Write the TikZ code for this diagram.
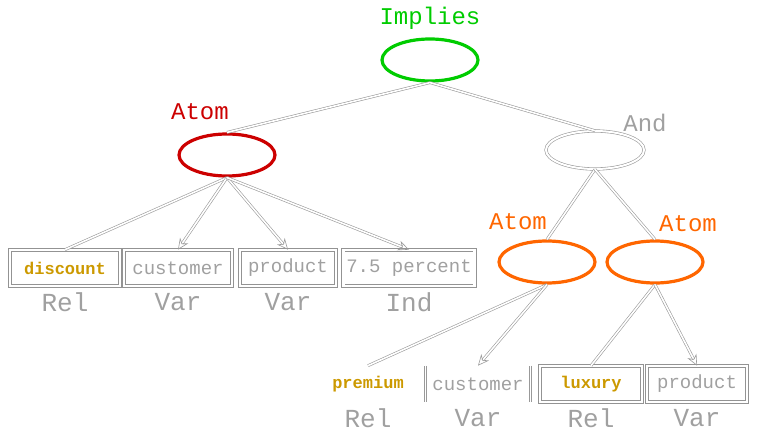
\documentclass[tikz,border=0pt]{standalone}
\usepackage{fontspec}
\setmonofont{Liberation Mono}
\usetikzlibrary{arrows.meta,positioning,shapes.geometric}
\definecolor{implgreen}{HTML}{00CC00}
\definecolor{atomred}{HTML}{CC0000}
\definecolor{atomorange}{HTML}{FF6600}
\definecolor{relgold}{HTML}{CC9900}
\definecolor{ghost}{HTML}{A0A0A0}

\begin{document}
\begin{tikzpicture}[
    x=1pt, y=-1pt,
    oval/.style={draw=#1, ellipse, line width=3.2pt,
                 minimum width=96pt, minimum height=42pt},
    ghostoval/.style={draw=gray!80, ellipse, double=white,
                 double distance=2pt, line width=0.6pt,
                 minimum width=98pt, minimum height=38pt},
    kind/.style={font=\ttfamily\fontsize{24}{24}\selectfont, text=#1},
    term/.style={draw=gray!85, double=white, double distance=2.5pt,
                 line width=0.7pt, minimum height=36pt, inner xsep=3pt,
                 font=\ttfamily\fontsize{19}{19}\selectfont, text=ghost},
    relterm/.style={term, font=\ttfamily\bfseries\fontsize{17}{17}\selectfont,
                 text=relgold},
    sort/.style={font=\ttfamily\fontsize{26}{26}\selectfont, text=ghost},
    edge/.style={draw=gray!80, double=white, double distance=1.6pt,
                 line width=0.6pt},
    aedge/.style={edge, -{Stealth[open, length=11pt, width=10pt]}},
    node distance=3pt
  ]
    \useasboundingbox (0,0) rectangle (762,446);

    % === Tree ===
    \node[oval=implgreen] (impl) at (430,60) {};
    \node[kind=implgreen, above=4pt of impl] (implT) {Implies};

    \node[oval=atomred] (atomL) at (227,155) {};
    \node[kind=atomred] (atomLT) at (200,112) {Atom};

    \node[ghostoval] (and) at (595,150) {};
    \node[kind=ghost] (andT) at (645,123) {And};

    \node[oval=atomorange] (atomA) at (547,262) {};
    \node[kind=atomorange] (atomAT) at (518,222) {Atom};
    \node[oval=atomorange] (atomB) at (655,262) {};
    \node[kind=atomorange] (atomBT) at (688,224) {Atom};

    % === First atom: terms ===
    \node[relterm, minimum width=110pt] (disc) at (65,268) {discount};
    \node[term, minimum width=108pt] (cust) at (178,268) {customer};
    \node[term, minimum width=96pt] (prod) at (288,268) {product};
    \node[term, minimum width=126pt] (pct) at (409,268) {7.5 percent};

    \node[sort, below=of disc] (discS) {Rel};
    \node[sort, below=of cust] (custS) {Var};
    \node[sort, below=of prod] (prodS) {Var};
    \node[sort, below=of pct] (pctS) {Ind};

    % === Second and third atoms: terms ===
    \node[relterm, draw=none, double=none, minimum width=90pt]
      (prem) at (368,384) {premium};
    \node[term, draw=none, double=none, minimum width=104pt]
      (cust2) at (478,384) {customer};
    \node[relterm, minimum width=102pt] (lux) at (591,384) {luxury};
    \node[term, minimum width=100pt] (prod2) at (697,384) {product};

    \draw[edge] (cust2.north west) -- (cust2.south west);
    \draw[edge] (cust2.north east) -- (cust2.south east);

    \node[sort, below=of prem] (premS) {Rel};
    \node[sort, below=of cust2] (cust2S) {Var};
    \node[sort, below=of lux] (luxS) {Rel};
    \node[sort, below=of prod2] (prod2S) {Var};

    % === Connectors ===
    \draw[edge] (impl.south) -- (atomL.north);
    \draw[edge] (impl.south) -- (and.north);

    \draw[edge] (atomL.south) -- (disc.north);
    \draw[aedge] (atomL.south) -- (cust.north);
    \draw[aedge] (atomL.south) -- (prod.north);
    \draw[aedge] (atomL.south) -- (pct.north);

    \draw[edge] (and.south) -- (atomA.north);
    \draw[edge] (and.south) -- (atomB.north);

    \draw[edge] (atomA.south) -- (prem.north);
    \draw[aedge] (atomA.south) -- (cust2.north);
    \draw[edge] (atomB.south) -- (lux.north);
    \draw[aedge] (atomB.south) -- (prod2.north);
\end{tikzpicture}
\end{document}
